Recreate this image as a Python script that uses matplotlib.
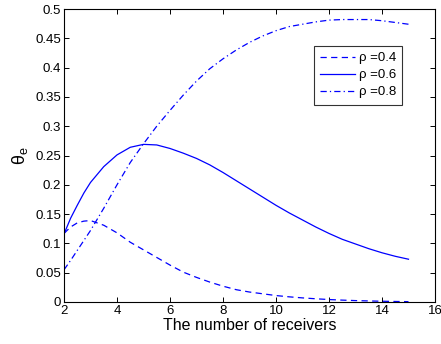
import matplotlib
matplotlib.use("Agg")
import matplotlib.pyplot as plt
import numpy as np

plt.rcParams['font.family'] = ['Liberation Sans', 'DejaVu Sans']

# values
x = [2, 2.25, 2.5, 2.75, 3, 3.5, 4, 4.5, 5, 5.5, 6, 6.5, 7, 7.5, 8, 8.5, 9,
     9.5, 10, 10.5, 11, 11.5, 12, 12.5, 13, 13.5, 14, 14.5, 15]
rho_04 = [0.117, 0.128, 0.135, 0.138, 0.139, 0.131, 0.118, 0.102, 0.089,
          0.076, 0.063, 0.051, 0.042, 0.034, 0.027, 0.021, 0.017, 0.014,
          0.011, 0.0088, 0.0070, 0.0055, 0.0042, 0.0032, 0.0024, 0.0018,
          0.0013, 0.0009, 0.0006]
rho_06 = [0.116, 0.143, 0.165, 0.186, 0.204, 0.231, 0.251, 0.264, 0.269,
          0.268, 0.262, 0.254, 0.245, 0.234, 0.221, 0.207, 0.193, 0.179,
          0.165, 0.152, 0.140, 0.128, 0.117, 0.107, 0.099, 0.091, 0.084,
          0.078, 0.073]
rho_08 = [0.055, 0.071, 0.088, 0.105, 0.122, 0.160, 0.200, 0.238, 0.270,
          0.300, 0.327, 0.353, 0.377, 0.398, 0.415, 0.430, 0.443, 0.454,
          0.463, 0.470, 0.474, 0.478, 0.481, 0.482, 0.482, 0.482, 0.480,
          0.477, 0.474]
labels = ['\u03c1 =0.4', '\u03c1 =0.6', '\u03c1 =0.8']

fig = plt.figure(figsize=(4.41, 3.44), dpi=100)
ax = fig.add_axes([64 / 441, 42 / 344, 371 / 441, 293 / 344])

blue = (0.0, 0.0, 1.0)
ax.plot(x, rho_04, color=blue, lw=0.9, dashes=(5, 3.5), label=labels[0])
ax.plot(x, rho_06, color=blue, lw=0.9, label=labels[1])
ax.plot(x, rho_08, color=blue, lw=0.9, dashes=(5, 2.5, 1, 2.5), label=labels[2])

ax.set_xlim(2, 16)
ax.set_ylim(0, 0.5)
ax.set_xticks(np.arange(2, 17, 2))
ax.set_yticks(np.arange(0, 0.51, 0.05))
ax.set_yticklabels(['0', '0.05', '0.1', '0.15', '0.2', '0.25', '0.3', '0.35',
                    '0.4', '0.45', '0.5'])
ax.tick_params(direction='in', top=True, right=True, labelsize=9.5,
               length=3.5, width=0.7, pad=2)
for s in ax.spines.values():
    s.set_linewidth(0.8)

ax.set_xlabel('The number of receivers', fontsize=11.5, labelpad=1)
ax.set_ylabel(r'$\mathregular{\theta_e}$', fontsize=13, labelpad=4)

leg = ax.legend(loc='upper left', bbox_to_anchor=(0.673, 0.875), fontsize=9.5,
                frameon=True, fancybox=False, handlelength=2.6,
                handletextpad=0.3, borderpad=0.5, labelspacing=0.35,
                borderaxespad=0)
leg.get_frame().set_edgecolor('black')
leg.get_frame().set_linewidth(0.8)

fig.savefig('out.png', dpi=100)
